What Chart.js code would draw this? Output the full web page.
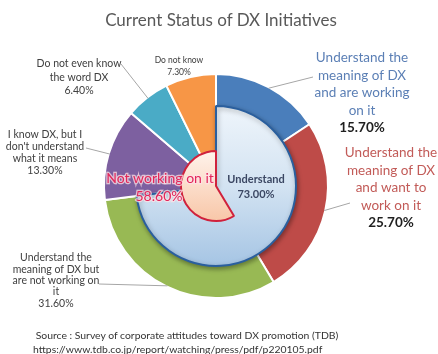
<!DOCTYPE html>
<html>
<head>
<meta charset="utf-8">
<script src="https://cdn.jsdelivr.net/npm/chart.js@4.4.1/dist/chart.umd.min.js"></script>
<style>
html,body{margin:0;padding:0;background:#fff;}
#wrap{position:relative;width:438px;height:354px;overflow:hidden;font-family:Lato,"Open Sans",sans-serif;}
#wrap canvas{position:absolute;left:0;top:0;}
#title{position:absolute;left:2px;top:9px;width:438px;text-align:center;font-size:17px;color:#595959;line-height:22px;}
#src{position:absolute;left:33px;top:328px;font-size:10.4px;color:#333;line-height:14px;white-space:nowrap;}
</style>
</head>
<body>
<div id="wrap">
  <canvas id="c1" width="438" height="354"></canvas>
  <canvas id="c2" width="438" height="354"></canvas>
  <canvas id="c3" width="438" height="354"></canvas>
  <div id="title">Current Status of DX Initiatives</div>
  <div id="src">&nbsp;Source : Survey of corporate attitudes toward DX promotion (TDB)<br>https://www.tdb.co.jp/report/watching/press/pdf/p220105.pdf</div>
</div>
<script>
// ---- data ----
const outerLabels = [
  'Understand the meaning of DX and are working on it',
  'Understand the meaning of DX and want to work on it',
  'Understand the meaning of DX but are not working on it',
  "I know DX, but I don't understand what it means",
  'Do not even know the word DX',
  'Do not know'
];
const outerValues = [15.7, 25.7, 31.6, 13.3, 6.4, 7.3];
const outerColors = ['#4a7ebb', '#be4b48', '#98b954', '#7d60a0', '#4aabc6', '#f79646'];

const innerLabels = ['Understand', ''];
const innerValues = [73.0, 27.0];

const coreLabels = ['', 'Not working on it'];
const coreValues = [41.4, 58.6];

// ---- shared layout ----
const PAD = {left: 103, right: 109, top: 73, bottom: 55};
const FONT = 'Lato, "Open Sans", sans-serif';
const baseOpts = {
  responsive: false,
  animation: false,
  events: [],
  layout: {padding: PAD},
  plugins: {legend: {display: false}, tooltip: {enabled: false}}
};

function vGrad(chart, stops) {
  const a = chart.chartArea;
  if (!a) return stops[0][1];
  const g = chart.ctx.createLinearGradient(0, a.top, 0, a.bottom);
  stops.forEach(s => g.addColorStop(s[0], s[1]));
  return g;
}

// outer ring (full pie underneath)
const chart1 = new Chart(document.getElementById('c1'), {
  type: 'pie',
  data: {labels: outerLabels, datasets: [{data: outerValues, backgroundColor: outerColors, borderColor: '#ffffff', borderWidth: 2}]},
  options: baseOpts
});

// "Understand" sector
const shadowPlugin = {
  id: 'shadow',
  beforeDatasetsDraw(chart) {
    const c = chart.ctx; c.save();
    c.shadowColor = 'rgba(0,0,0,0.35)'; c.shadowBlur = 5; c.shadowOffsetX = 1; c.shadowOffsetY = 2;
  },
  afterDatasetsDraw(chart) { chart.ctx.restore(); }
};
const chart2 = new Chart(document.getElementById('c2'), {
  type: 'pie',
  data: {labels: innerLabels, datasets: [{
    data: innerValues,
    backgroundColor: (ctx) => ctx.dataIndex === 0 ? vGrad(ctx.chart, [[0.1,'#f2f7fc'],[0.5,'#d3e3f2'],[0.85,'#a6c5e4']]) : 'rgba(0,0,0,0)',
    borderColor: ['#2a5f9e', 'rgba(0,0,0,0)'],
    borderWidth: [2, 0]
  }]},
  options: Object.assign({}, baseOpts, {radius: 80}),
  plugins: [shadowPlugin]
});

// "Not working on it" sector + all text labels
const labelSpecs = [
  {i: 0, lines: ['Understand the', 'meaning of DX', 'and are working', 'on it'], x: 362, y: 58, lh: 17.5, size: 13.5, color: '#5b7fb5', pctBold: true, pctColor: '#1f1f1f', end: [[313, 77]]},
  {i: 1, lines: ['Understand the', 'meaning of DX', 'and want to', 'work on it'], x: 391, y: 153, lh: 17.5, size: 13.5, color: '#c25b58', pctBold: true, pctColor: '#1f1f1f', end: [[350, 203]]},
  {i: 2, lines: ['Understand the', 'meaning of DX but', 'are not working on', 'it'], x: 56, y: 258, lh: 11.3, size: 10.5, color: '#404040', pctColor: '#404040', end: [[99, 284]]},
  {i: 3, lines: ['I know DX, but I', "don't understand", 'what it means'], x: 45, y: 135, lh: 12, size: 10.5, color: '#404040', pctColor: '#404040', end: [[86, 148]]},
  {i: 4, lines: ['Do not even know', 'the word DX'], x: 79, y: 64, lh: 13.5, size: 10.5, color: '#404040', pctColor: '#404040', end: [[121, 64]]},
  {i: 5, lines: ['Do not know'], x: 179, y: 60, lh: 12, size: 8.5, color: '#404040', pctColor: '#404040', end: null}
];

const labelPlugin = {
  id: 'labels',
  afterDraw(chart) {
    const c = chart.ctx;
    const arcs = chart1.getDatasetMeta(0).data;
    c.save();
    c.textAlign = 'center';
    c.textBaseline = 'middle';
    // leader lines
    c.strokeStyle = '#a6a6a6';
    c.lineWidth = 1;
    labelSpecs.forEach(s => {
      if (!s.end) return;
      const a = arcs[s.i];
      const mid = (a.startAngle + a.endAngle) / 2;
      const r = a.outerRadius - 1;
      c.beginPath();
      c.moveTo(a.x + Math.cos(mid) * r, a.y + Math.sin(mid) * r);
      s.end.forEach(p => c.lineTo(p[0], p[1]));
      c.stroke();
    });
    // texts
    labelSpecs.forEach(s => {
      c.font = s.size + 'px ' + FONT;
      c.fillStyle = s.color;
      s.lines.forEach((t, k) => c.fillText(t, s.x, s.y + k * s.lh));
      c.font = (s.pctBold ? 'bold ' : '') + s.size + 'px ' + FONT;
      c.fillStyle = s.pctColor;
      c.fillText(outerValues[s.i].toFixed(2) + '%', s.x, s.y + s.lines.length * s.lh);
    });
    // center labels
    c.font = 'bold 11px ' + FONT;
    c.fillStyle = '#3b4763';
    c.fillText(innerLabels[0], 256, 179);
    c.fillText(innerValues[0].toFixed(2) + '%', 256, 194);
    c.font = '14px ' + FONT;
    c.lineWidth = 2.5;
    c.strokeStyle = 'rgba(255,225,230,0.75)';
    c.fillStyle = '#e2265a';
    c.strokeText(coreLabels[1], 160, 178);
    c.fillText(coreLabels[1], 160, 178);
    c.strokeText(coreValues[1].toFixed(2) + '%', 159, 196);
    c.fillText(coreValues[1].toFixed(2) + '%', 159, 196);
    c.restore();
  }
};

const chart3 = new Chart(document.getElementById('c3'), {
  type: 'pie',
  data: {labels: coreLabels, datasets: [{
    data: coreValues,
    backgroundColor: (ctx) => {
      if (ctx.dataIndex === 0) return 'rgba(0,0,0,0)';
      const ch = ctx.chart, a = ch.chartArea;
      if (!a) return '#fcdcc8';
      const cy = (a.top + a.bottom) / 2;
      const g = ch.ctx.createLinearGradient(0, cy - 36, 0, cy + 36);
      g.addColorStop(0, '#fff3ec'); g.addColorStop(1, '#f8c6a7');
      return g;
    },
    borderColor: ['rgba(0,0,0,0)', '#d0213c'],
    borderWidth: [0, 2]
  }]},
  options: Object.assign({}, baseOpts, {radius: 35}),
  plugins: [labelPlugin]
});
</script>
</body>
</html>
